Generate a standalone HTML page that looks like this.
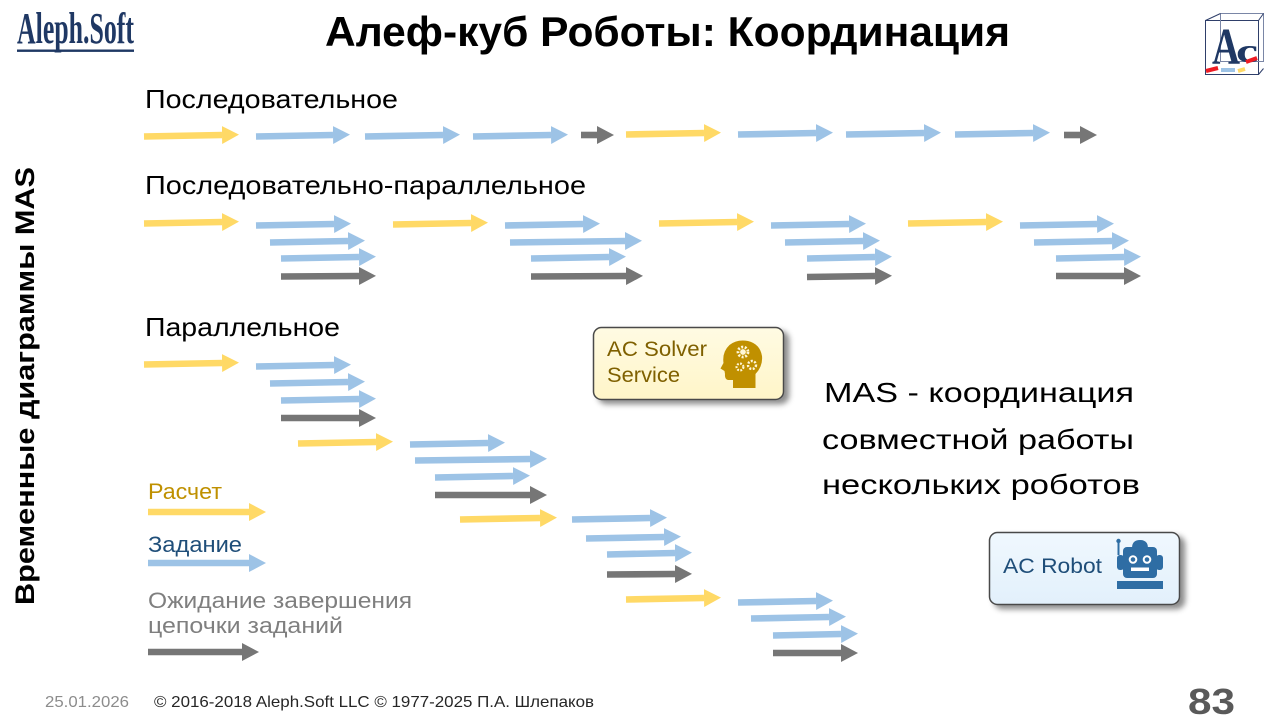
<!DOCTYPE html>
<html>
<head>
<meta charset="utf-8">
<style>
html,body{margin:0;padding:0;background:#fff;}
svg{display:block;}
text{font-family:"Liberation Sans","DejaVu Sans",sans-serif;}
</style>
</head>
<body>
<svg width="1280" height="720" viewBox="0 0 1280 720" xmlns="http://www.w3.org/2000/svg">
<defs>
  <marker id="hy" markerUnits="userSpaceOnUse" markerWidth="18" markerHeight="19" refX="0" refY="9" orient="auto" viewBox="0 0 18 19"><path d="M0,0 L17,9 L0,18 z" fill="#ffd966"/></marker>
  <marker id="hb" markerUnits="userSpaceOnUse" markerWidth="18" markerHeight="19" refX="0" refY="9" orient="auto" viewBox="0 0 18 19"><path d="M0,0 L17,9 L0,18 z" fill="#9dc3e6"/></marker>
  <marker id="hg" markerUnits="userSpaceOnUse" markerWidth="18" markerHeight="19" refX="0" refY="9" orient="auto" viewBox="0 0 18 19"><path d="M0,0 L17,9 L0,18 z" fill="#767676"/></marker>
  <filter id="sh" x="-10%" y="-20%" width="130%" height="150%">
    <feDropShadow dx="5" dy="4" stdDeviation="3" flood-color="#000" flood-opacity="0.45"/>
  </filter>
  <linearGradient id="gy" x1="0" y1="0" x2="0" y2="1">
    <stop offset="0" stop-color="#fffbe3"/><stop offset="1" stop-color="#fff5c8"/>
  </linearGradient>
  <linearGradient id="gb" x1="0" y1="0" x2="0" y2="1">
    <stop offset="0" stop-color="#f0f8fe"/><stop offset="1" stop-color="#e2f0fb"/>
  </linearGradient>
</defs>

<!-- Logo Aleph.Soft -->
<text x="17" y="43" font-size="44" font-weight="bold" fill="#1f3864" textLength="117" lengthAdjust="spacingAndGlyphs" style="font-family:'Liberation Serif',serif">Aleph.Soft</text>
<rect x="17" y="49.5" width="117" height="2.4" fill="#1f3864"/>

<!-- Title -->
<text x="325" y="46" font-size="42" font-weight="bold" fill="#000" textLength="685" lengthAdjust="spacingAndGlyphs">Алеф-куб Роботы: Координация</text>

<!-- AC cube logo -->
<g stroke="#2f3f6a" stroke-width="1" fill="none">
  <rect x="1205.5" y="20.5" width="53" height="54"/>
  <rect x="1220.5" y="13.5" width="43" height="48" stroke="#7a86a6"/>
  <line x1="1205.5" y1="20.5" x2="1220.5" y2="13.5"/>
  <line x1="1258.5" y1="20.5" x2="1263.5" y2="13.5"/>
  <line x1="1258.5" y1="74.5" x2="1263.5" y2="68.5"/>
</g>
<text x="1212" y="64" font-size="52" font-weight="bold" fill="#1f3864" textLength="28" lengthAdjust="spacingAndGlyphs" style="font-family:'Liberation Serif',serif">A</text>
<text x="1236" y="62" font-size="34" font-weight="bold" fill="#1f3864" textLength="22" lengthAdjust="spacingAndGlyphs" style="font-family:'Liberation Serif',serif">c</text>
<line x1="1206" y1="71" x2="1218" y2="68" stroke="#ee1c24" stroke-width="4"/>
<line x1="1221" y1="70" x2="1235" y2="70" stroke="#9dc3e6" stroke-width="4"/>
<line x1="1238" y1="71" x2="1245" y2="69" stroke="#ffd966" stroke-width="4"/>
<line x1="1246" y1="62" x2="1257" y2="58" stroke="#ee1c24" stroke-width="4"/>

<!-- Vertical label -->
<text transform="translate(34,605) rotate(-90)" font-size="27" font-weight="bold" fill="#000" textLength="438" lengthAdjust="spacingAndGlyphs">Временные диаграммы MAS</text>

<!-- Section labels -->
<text x="145" y="108" font-size="26" fill="#000" textLength="253" lengthAdjust="spacingAndGlyphs">Последовательное</text>
<text x="145" y="194" font-size="26" fill="#000" textLength="441" lengthAdjust="spacingAndGlyphs">Последовательно-параллельное</text>
<text x="145" y="336" font-size="26" fill="#000" textLength="195" lengthAdjust="spacingAndGlyphs">Параллельное</text>

<!-- Arrows -->
<g stroke-width="6.6" fill="none">
  <!-- Row 1 -->
  <line x1="144" y1="136.5" x2="222" y2="135" stroke="#ffd966" marker-end="url(#hy)"/>
  <line x1="256" y1="136.5" x2="333" y2="135" stroke="#9dc3e6" marker-end="url(#hb)"/>
  <line x1="365" y1="136.5" x2="443" y2="135" stroke="#9dc3e6" marker-end="url(#hb)"/>
  <line x1="473" y1="136.5" x2="551" y2="135" stroke="#9dc3e6" marker-end="url(#hb)"/>
  <line x1="581" y1="135" x2="597" y2="135" stroke="#767676" marker-end="url(#hg)"/>
  <line x1="626" y1="134.5" x2="704" y2="133" stroke="#ffd966" marker-end="url(#hy)"/>
  <line x1="738" y1="134.5" x2="816" y2="133" stroke="#9dc3e6" marker-end="url(#hb)"/>
  <line x1="846" y1="134.5" x2="924" y2="133" stroke="#9dc3e6" marker-end="url(#hb)"/>
  <line x1="955" y1="134.5" x2="1033" y2="133" stroke="#9dc3e6" marker-end="url(#hb)"/>
  <line x1="1064" y1="135" x2="1080" y2="135" stroke="#767676" marker-end="url(#hg)"/>

  <!-- Row 2 -->
  <line x1="144" y1="223.5" x2="222" y2="222" stroke="#ffd966" marker-end="url(#hy)"/>
  <line x1="256" y1="225.5" x2="334" y2="224" stroke="#9dc3e6" marker-end="url(#hb)"/>
  <line x1="270" y1="242.5" x2="348" y2="241" stroke="#9dc3e6" marker-end="url(#hb)"/>
  <line x1="281" y1="258.5" x2="359" y2="257" stroke="#9dc3e6" marker-end="url(#hb)"/>
  <line x1="281" y1="276.5" x2="359" y2="276" stroke="#767676" marker-end="url(#hg)"/>

  <line x1="393" y1="224.5" x2="471" y2="223" stroke="#ffd966" marker-end="url(#hy)"/>
  <line x1="505" y1="225.5" x2="583" y2="224" stroke="#9dc3e6" marker-end="url(#hb)"/>
  <line x1="510" y1="242.5" x2="625" y2="241" stroke="#9dc3e6" marker-end="url(#hb)"/>
  <line x1="531" y1="258.5" x2="609" y2="257" stroke="#9dc3e6" marker-end="url(#hb)"/>
  <line x1="531" y1="276.5" x2="626" y2="276" stroke="#767676" marker-end="url(#hg)"/>

  <line x1="659" y1="223.5" x2="737" y2="222" stroke="#ffd966" marker-end="url(#hy)"/>
  <line x1="771" y1="225.5" x2="849" y2="224" stroke="#9dc3e6" marker-end="url(#hb)"/>
  <line x1="785" y1="242.5" x2="863" y2="241" stroke="#9dc3e6" marker-end="url(#hb)"/>
  <line x1="807" y1="258.5" x2="875" y2="257" stroke="#9dc3e6" marker-end="url(#hb)"/>
  <line x1="807" y1="277" x2="875" y2="276" stroke="#767676" marker-end="url(#hg)"/>

  <line x1="908" y1="223.5" x2="986" y2="222" stroke="#ffd966" marker-end="url(#hy)"/>
  <line x1="1020" y1="225.5" x2="1097" y2="224" stroke="#9dc3e6" marker-end="url(#hb)"/>
  <line x1="1034" y1="242.5" x2="1112" y2="241" stroke="#9dc3e6" marker-end="url(#hb)"/>
  <line x1="1056" y1="258.5" x2="1124" y2="257" stroke="#9dc3e6" marker-end="url(#hb)"/>
  <line x1="1056" y1="276" x2="1124" y2="276" stroke="#767676" marker-end="url(#hg)"/>

  <!-- Parallel -->
  <line x1="144" y1="364.5" x2="222" y2="363" stroke="#ffd966" marker-end="url(#hy)"/>
  <line x1="256" y1="366.5" x2="334" y2="365" stroke="#9dc3e6" marker-end="url(#hb)"/>
  <line x1="270" y1="383.5" x2="348" y2="382" stroke="#9dc3e6" marker-end="url(#hb)"/>
  <line x1="281" y1="400.5" x2="359" y2="399" stroke="#9dc3e6" marker-end="url(#hb)"/>
  <line x1="281" y1="418" x2="359" y2="418" stroke="#767676" marker-end="url(#hg)"/>

  <line x1="298" y1="443.5" x2="376" y2="442" stroke="#ffd966" marker-end="url(#hy)"/>
  <line x1="410" y1="444.5" x2="488" y2="443" stroke="#9dc3e6" marker-end="url(#hb)"/>
  <line x1="415" y1="460.5" x2="530" y2="459" stroke="#9dc3e6" marker-end="url(#hb)"/>
  <line x1="435" y1="477.5" x2="513" y2="476" stroke="#9dc3e6" marker-end="url(#hb)"/>
  <line x1="435" y1="495" x2="530" y2="495" stroke="#767676" marker-end="url(#hg)"/>

  <line x1="460" y1="519.5" x2="540" y2="518" stroke="#ffd966" marker-end="url(#hy)"/>
  <line x1="572" y1="519.5" x2="650" y2="518" stroke="#9dc3e6" marker-end="url(#hb)"/>
  <line x1="586" y1="538.5" x2="664" y2="537" stroke="#9dc3e6" marker-end="url(#hb)"/>
  <line x1="607" y1="554.5" x2="675" y2="553" stroke="#9dc3e6" marker-end="url(#hb)"/>
  <line x1="607" y1="574.5" x2="675" y2="574" stroke="#767676" marker-end="url(#hg)"/>

  <line x1="626" y1="599.5" x2="704" y2="598" stroke="#ffd966" marker-end="url(#hy)"/>
  <line x1="738" y1="602.5" x2="816" y2="601" stroke="#9dc3e6" marker-end="url(#hb)"/>
  <line x1="751" y1="618.5" x2="829" y2="617" stroke="#9dc3e6" marker-end="url(#hb)"/>
  <line x1="773" y1="635.5" x2="841" y2="634" stroke="#9dc3e6" marker-end="url(#hb)"/>
  <line x1="773" y1="653" x2="841" y2="653" stroke="#767676" marker-end="url(#hg)"/>

  <!-- Legend -->
  <line x1="148" y1="512" x2="249" y2="512" stroke="#ffd966" marker-end="url(#hy)"/>
  <line x1="148" y1="563" x2="249" y2="563" stroke="#9dc3e6" marker-end="url(#hb)"/>
  <line x1="148" y1="652" x2="242" y2="652" stroke="#767676" marker-end="url(#hg)"/>
</g>

<!-- Legend text -->
<text x="148" y="499" font-size="22" fill="#bf9000" textLength="74" lengthAdjust="spacingAndGlyphs">Расчет</text>
<text x="148" y="552" font-size="22" fill="#1f4e79" textLength="94" lengthAdjust="spacingAndGlyphs">Задание</text>
<text x="148" y="608" font-size="22" fill="#7f7f7f" textLength="264" lengthAdjust="spacingAndGlyphs">Ожидание завершения</text>
<text x="148" y="633" font-size="22" fill="#7f7f7f" textLength="195" lengthAdjust="spacingAndGlyphs">цепочки заданий</text>

<!-- AC Solver Service box -->
<rect x="593.5" y="327.5" width="190" height="72" rx="8" ry="8" fill="url(#gy)" stroke="#4a4a4a" stroke-width="1.5" filter="url(#sh)"/>
<text x="607" y="356" font-size="21" fill="#7f6000" textLength="100" lengthAdjust="spacingAndGlyphs">AC Solver</text>
<text x="607" y="382" font-size="21" fill="#7f6000" textLength="73" lengthAdjust="spacingAndGlyphs">Service</text>
<!-- head icon -->
<path d="M733,388 L733,380 L728,380 Q724.5,379 725,374 L724.5,371 L720.5,368.5 L723.5,363 Q722,352 729.5,345 Q737,339 748,341 Q760,344 762,356 Q763,366 755.5,374 L755.5,388 Z" fill="#c09000"/>
<g fill="#fff7d8" stroke="#fff7d8">
  <circle cx="743" cy="352" r="5" fill="none" stroke-width="2.8" stroke-dasharray="2 1.6"/>
  <circle cx="743" cy="352" r="2.4"/>
  <circle cx="752" cy="365" r="4" fill="none" stroke-width="2.4" stroke-dasharray="2 1.5"/>
  <circle cx="740" cy="367" r="3.4" fill="none" stroke-width="2.2" stroke-dasharray="1.8 1.4"/>
</g>

<!-- AC Robot box -->
<rect x="989.5" y="532.5" width="190" height="72" rx="8" ry="8" fill="url(#gb)" stroke="#4a4a4a" stroke-width="1.5" filter="url(#sh)"/>
<text x="1003" y="573" font-size="21" fill="#1f4e79" textLength="99" lengthAdjust="spacingAndGlyphs">AC Robot</text>
<!-- robot icon -->
<g fill="#2e6da4">
  <circle cx="1118.5" cy="541" r="2.2"/>
  <rect x="1117.5" y="541" width="2" height="14"/>
  <path d="M1132,548 Q1132,540 1140,540 Q1148,540 1148,548 Z"/>
  <rect x="1123" y="547" width="34" height="31" rx="4"/>
  <rect x="1117" y="555" width="7" height="15" rx="3"/>
  <rect x="1156" y="555" width="7" height="15" rx="3"/>
  <rect x="1117" y="581" width="46" height="8"/>
</g>
<g fill="none" stroke="#fff" stroke-width="2">
  <circle cx="1133" cy="559.5" r="3.3"/>
  <circle cx="1147" cy="559.5" r="3.3"/>
</g>
<rect x="1131" y="567.5" width="18" height="3.5" fill="#fff"/>

<!-- MAS text -->
<text x="824" y="402" font-size="28" fill="#000" textLength="310" lengthAdjust="spacingAndGlyphs">MAS - координация</text>
<text x="822" y="449" font-size="28" fill="#000" textLength="312" lengthAdjust="spacingAndGlyphs">совместной работы</text>
<text x="822" y="494" font-size="28" fill="#000" textLength="318" lengthAdjust="spacingAndGlyphs">нескольких роботов</text>

<!-- Footer -->
<text x="45" y="707" font-size="16" fill="#8c8c8c" textLength="84" lengthAdjust="spacingAndGlyphs">25.01.2026</text>
<text x="154" y="707" font-size="16" fill="#262626" textLength="440" lengthAdjust="spacingAndGlyphs">© 2016-2018 Aleph.Soft LLC © 1977-2025 П.А. Шлепаков</text>
<text x="1188" y="714" font-size="36" font-weight="bold" fill="#595959" textLength="47" lengthAdjust="spacingAndGlyphs">83</text>
</svg>
</body>
</html>
